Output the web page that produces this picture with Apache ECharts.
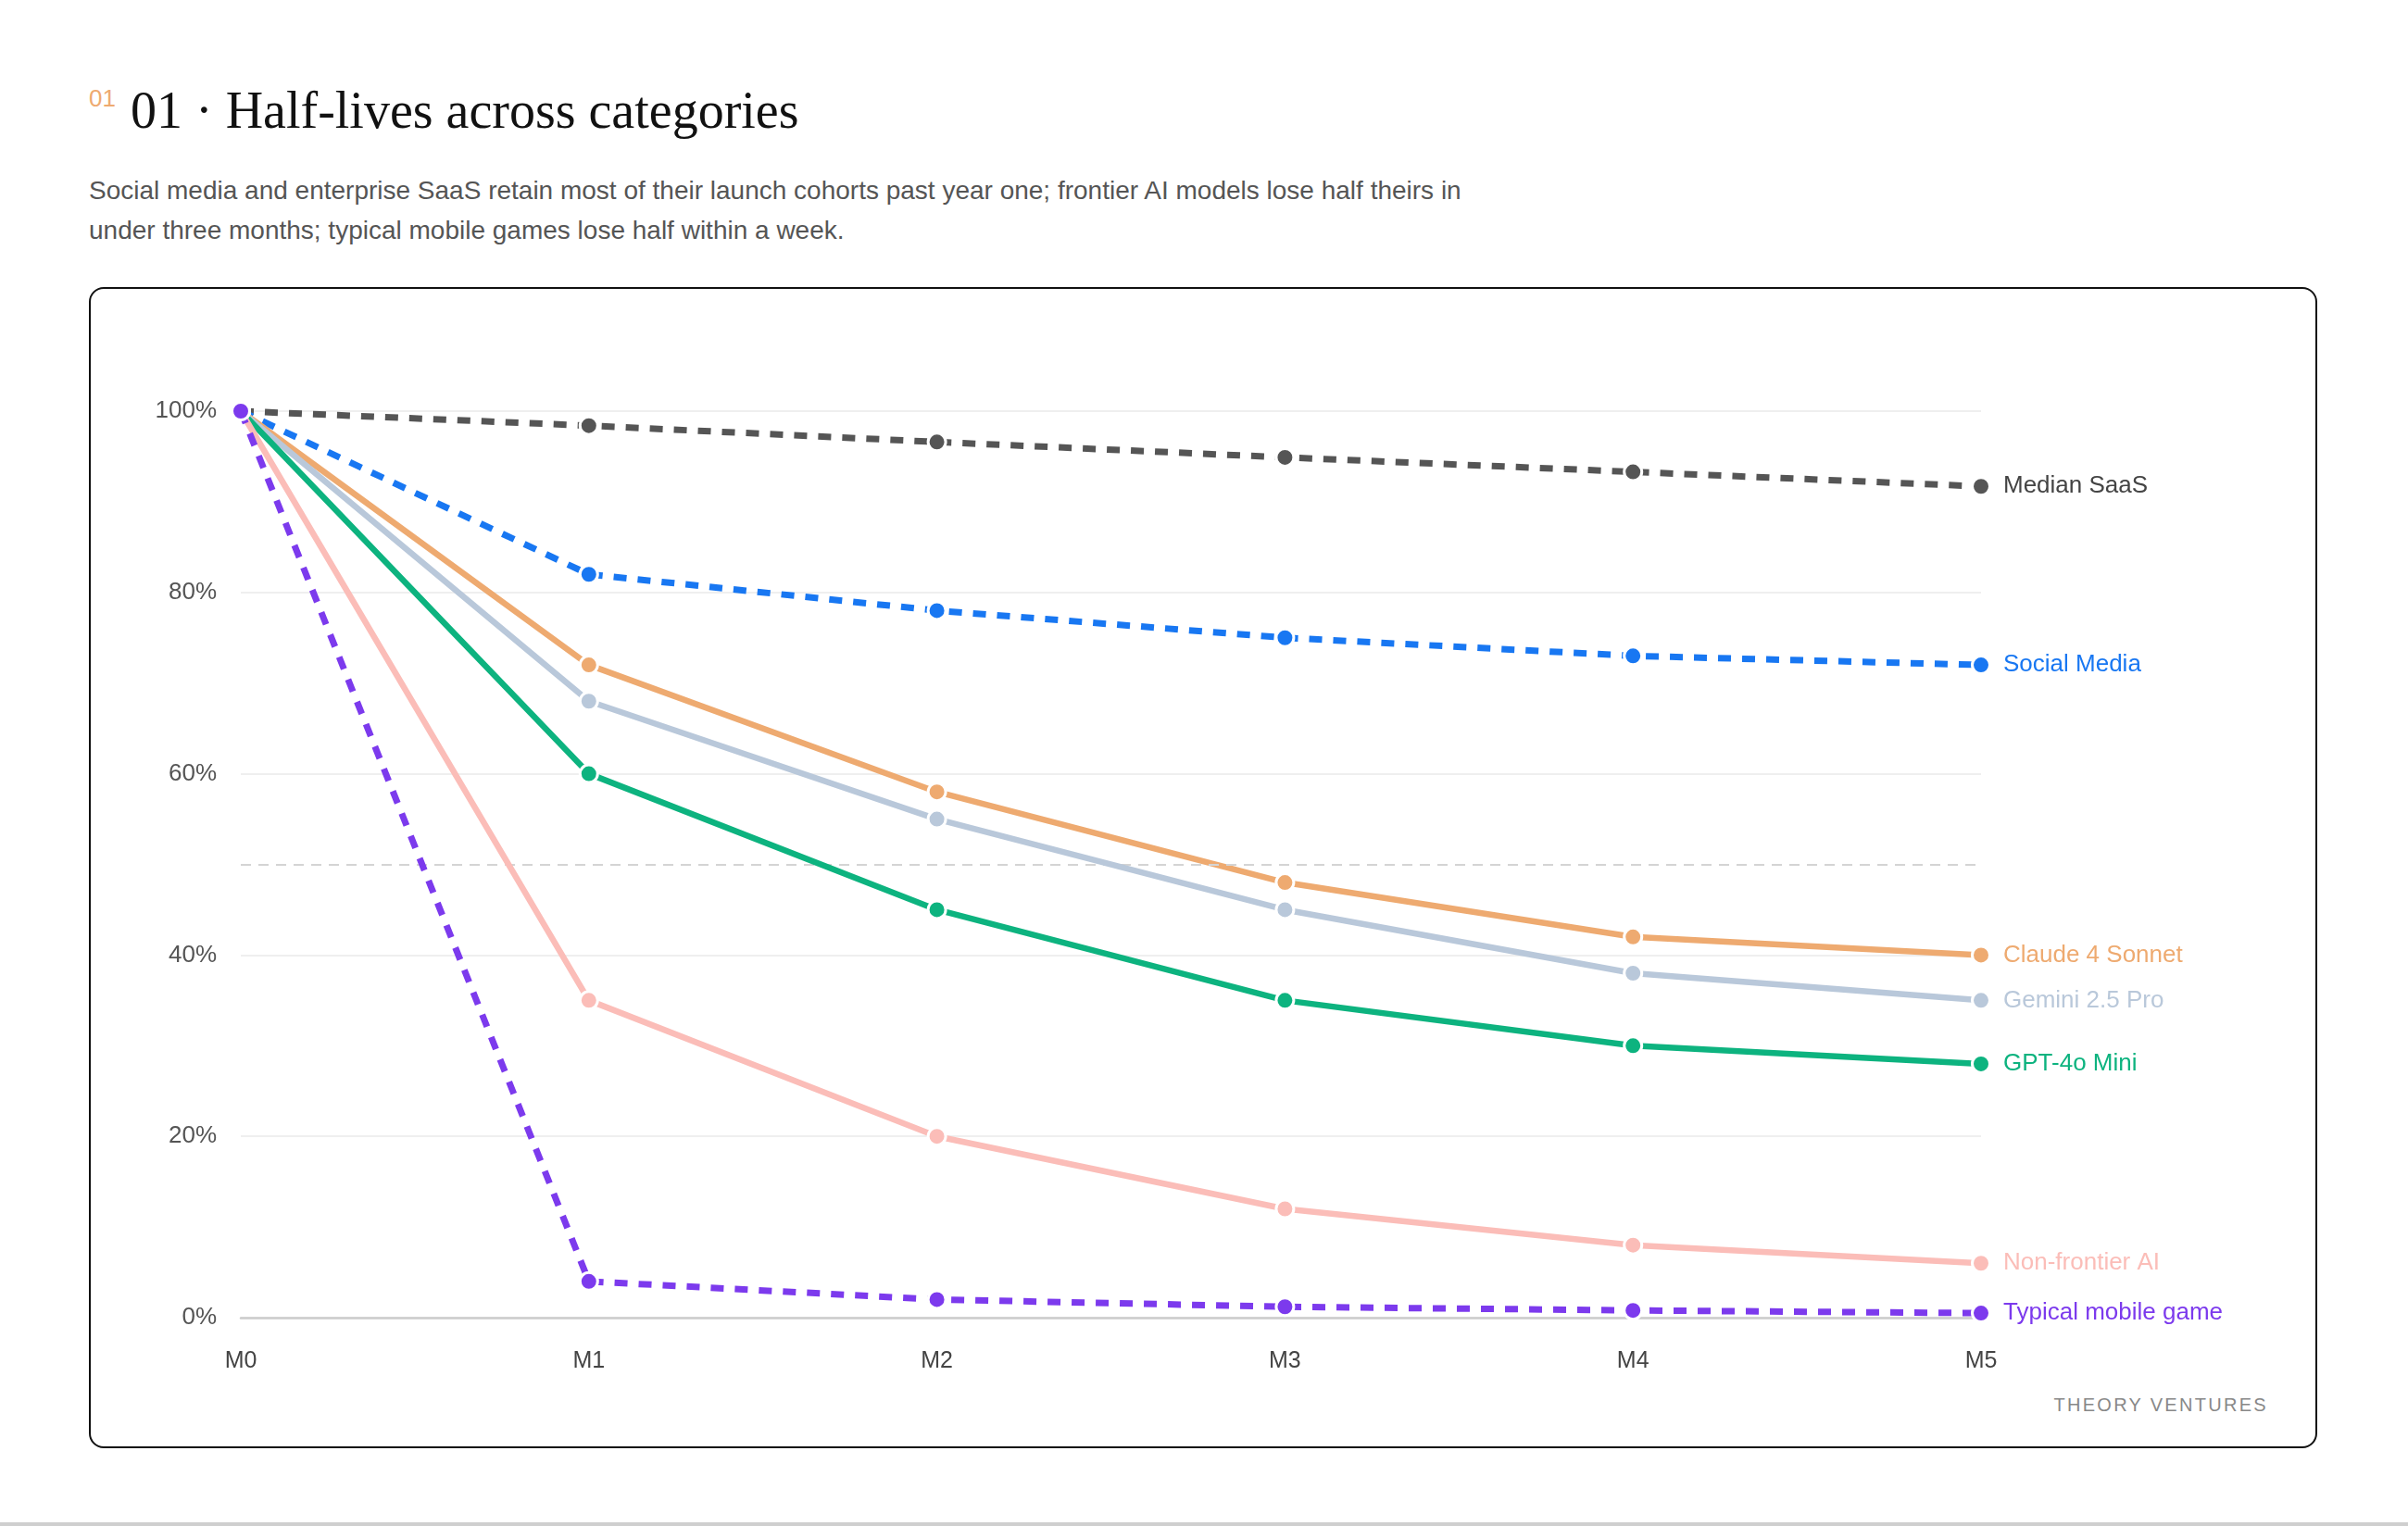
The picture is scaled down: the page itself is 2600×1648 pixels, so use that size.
<!DOCTYPE html>
<html>
<head>
<meta charset="utf-8">
<script src="https://cdn.jsdelivr.net/npm/echarts@6/dist/echarts.min.js"></script>
<style>
  html, body { margin: 0; padding: 0; background: #fff; }
  body { width: 2600px; height: 1648px; position: relative; overflow: hidden; font-family: 'Liberation Sans', Arial, sans-serif; }
  .sup { position: absolute; left: 96px; top: 91px; font-size: 26px; color: #eeaa70; }
  .title { position: absolute; left: 141px; top: 84px; font-family: 'Liberation Serif', serif; font-size: 56px; color: #111; line-height: 70px; }
  .sub { position: absolute; left: 96px; top: 184px; font-size: 28px; line-height: 43px; color: #555; width: 1800px; }
  .box { position: absolute; left: 96px; top: 310px; width: 2402px; height: 1250px; border: 2.5px solid #111; border-radius: 16px; }
  .foot { position: absolute; right: 151px; top: 1506px; font-size: 20px; letter-spacing: 2.3px; color: #888; }
  .bottom { position: absolute; left: 0; top: 1644px; width: 2600px; height: 4px; background: #cfcfcf; }
  #chart1 { position: absolute; left: 0; top: 0; width: 2600px; height: 1648px; }
</style>
</head>
<body>
<div class="sup">01</div>
<div class="title">01 · Half-lives across categories</div>
<div class="sub">Social media and enterprise SaaS retain most of their launch cohorts past year one; frontier AI models lose half theirs in<br>under three months; typical mobile games lose half within a week.</div>
<div class="box"></div>
<div class="foot">THEORY VENTURES</div>
<div class="bottom"></div>
<div id="chart1"></div>
<script>
var months = ['M0', 'M1', 'M2', 'M3', 'M4', 'M5'];

var medianSaas = [100, 98.4, 96.6, 94.9, 93.3, 91.7];
var socialMedia = [100, 82, 78, 75, 73, 72];
var claudeSonnet = [100, 72, 58, 48, 42, 40];
var geminiPro = [100, 68, 55, 45, 38, 35];
var gptMini = [100, 60, 45, 35, 30, 28];
var nonFrontier = [100, 35, 20, 12, 8, 6];
var mobileGame = [100, 4, 2, 1.2, 0.8, 0.5];

var halfLine = 50;

var seriesList = [
    { name: 'Median SaaS', data: medianSaas, color: '#555555', labelColor: '#444444', dashed: true },
    { name: 'Social Media', data: socialMedia, color: '#1877f2', labelColor: '#1877f2', dashed: true },
    { name: 'Claude 4 Sonnet', data: claudeSonnet, color: '#eeaa70', labelColor: '#eeaa70', dashed: false },
    { name: 'Gemini 2.5 Pro', data: geminiPro, color: '#b9c8da', labelColor: '#b9c8da', dashed: false },
    { name: 'GPT-4o Mini', data: gptMini, color: '#0db37f', labelColor: '#0db37f', dashed: false },
    { name: 'Non-frontier AI', data: nonFrontier, color: '#fbbdb8', labelColor: '#fbbdb8', dashed: false },
    { name: 'Typical mobile game', data: mobileGame, color: '#7c3aed', labelColor: '#7c3aed', dashed: true }
];

var myChart1 = echarts.init(document.getElementById('chart1'));

var series = seriesList.map(function (item, i) {
    var s = {
        name: item.name,
        type: 'line',
        data: item.data,
        symbol: 'circle',
        symbolSize: 19,
        z: 2 + i,
        itemStyle: {
            color: item.color,
            borderColor: '#fff',
            borderWidth: 3
        },
        lineStyle: {
            color: item.color,
            width: item.dashed ? 7 : 6.5,
            type: item.dashed ? [14, 12] : 'solid'
        },
        endLabel: {
            show: true,
            formatter: '{a}',
            color: item.labelColor,
            fontSize: 26,
            fontFamily: 'Liberation Sans',
            distance: 24
        }
    };
    if (i === 0) {
        s.markLine = {
            silent: true,
            symbol: 'none',
            label: { show: false },
            lineStyle: { color: '#d4d4d4', width: 2, type: [11, 8] },
            data: [{ yAxis: halfLine }]
        };
    }
    return s;
});

option1 = {
    animation: false,
    backgroundColor: 'transparent',
    textStyle: { fontFamily: 'Liberation Sans' },
    grid: {
        left: 260,
        right: 461,
        top: 444,
        bottom: 225,
        containLabel: false
    },
    xAxis: {
        type: 'category',
        data: months,
        boundaryGap: false,
        axisTick: { show: false },
        axisLine: { show: true, lineStyle: { color: '#cccccc', width: 2.5 } },
        axisLabel: { color: '#444', fontSize: 25, margin: 35 },
        splitLine: { show: false }
    },
    yAxis: {
        type: 'value',
        min: 0,
        max: 100,
        interval: 20,
        axisLine: { show: false },
        axisTick: { show: false },
        axisLabel: { formatter: '{value}%', color: '#555', fontSize: 26, margin: 26 },
        splitLine: { lineStyle: { color: '#efefef', width: 2 } }
    },
    series: series
};

myChart1.setOption(option1);
</script>
</body>
</html>
